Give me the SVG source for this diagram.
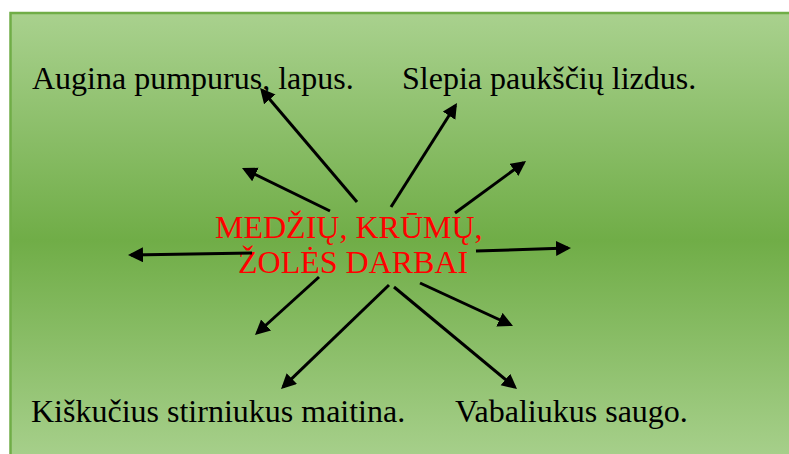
<svg xmlns="http://www.w3.org/2000/svg" width="789" height="454" viewBox="0 0 789 454">
  <defs>
    <linearGradient id="bg" gradientUnits="userSpaceOnUse" x1="0" y1="13" x2="0" y2="467">
      <stop offset="0" stop-color="#a9d18e"/>
      <stop offset="0.5" stop-color="#70ad47"/>
      <stop offset="1" stop-color="#a9d18e"/>
    </linearGradient>
    <marker id="ah" markerUnits="userSpaceOnUse" markerWidth="16" markerHeight="16" refX="12" refY="7.5" orient="auto">
      <path d="M0,0 L15,7.5 L0,15 z" fill="#000"/>
    </marker>
    <style>
      .lbl { font-family: "Liberation Serif", "Times New Roman", serif; font-size: 32px; fill: #000; }
      .ctr { font-family: "Liberation Serif", "Times New Roman", serif; font-size: 32px; fill: #ff0000; }
      .con line { stroke: #000; stroke-width: 3; marker-end: url(#ah); }
    </style>
  </defs>
  <rect width="789" height="454" fill="#ffffff"/>
  <rect id="panel" x="10.5" y="13" width="790" height="454" fill="url(#bg)" stroke="#70ad47" stroke-width="2.5"/>

  <g id="center">
    <text class="ctr" x="215" y="238">MEDŽIŲ, KRŪMŲ,</text>
    <text class="ctr" x="238" y="273">ŽOLĖS DARBAI</text>
  </g>
  <g id="n-augina"><text class="lbl" x="32" y="89">Augina pumpurus, lapus.</text></g>
  <g id="n-slepia"><text class="lbl" x="402" y="89">Slepia paukščių lizdus.</text></g>
  <g id="n-kiskucius"><text class="lbl" x="31" y="422">Kiškučius stirniukus maitina.</text></g>
  <g id="n-vabaliukus"><text class="lbl" x="455" y="422">Vabaliukus saugo.</text></g>

  <g id="connectors" class="con">
    <line x1="357" y1="202" x2="262" y2="90.3"/>
    <line x1="391" y1="207" x2="455.4" y2="105.5"/>
    <line x1="330" y1="211" x2="244.7" y2="169.3"/>
    <line x1="455" y1="213" x2="523.6" y2="162.8"/>
    <line x1="252" y1="253" x2="131" y2="255"/>
    <line x1="476" y1="251" x2="568" y2="248.1"/>
    <line x1="319" y1="277" x2="257.2" y2="333"/>
    <line x1="389" y1="285" x2="283.2" y2="386.9"/>
    <line x1="394" y1="287" x2="514.7" y2="387.1"/>
    <line x1="420" y1="283" x2="510.3" y2="324.7"/>
  </g>
</svg>
